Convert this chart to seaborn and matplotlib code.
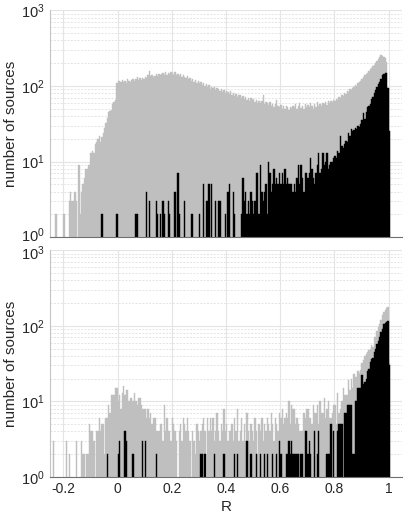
import matplotlib
matplotlib.use("Agg")
import matplotlib.pyplot as plt
import numpy as np
import pandas as pd
import seaborn as sns
from matplotlib.ticker import LogLocator, NullFormatter
from matplotlib.transforms import ScaledTranslation

# histogram of correlation coefficient R, bins of 0.005 from -0.25 to 1.005
r_min = -0.25
bin_width = 0.005

# upper panel: all sources (grey) and selected sources (black)
top_gray = [
    0, 0, 0, 0, 2, 0, 0, 0, 0, 0,
    2, 0, 0, 0, 3, 4, 3, 3, 4, 3,
    0, 9, 2, 4, 5, 6, 8, 8, 9, 9,
    13, 14, 13, 17, 18, 20, 22, 18, 21, 24,
    28, 32, 38, 45, 46, 48, 58, 62, 65, 110,
    115, 118, 112, 120, 114, 117, 110, 122, 116, 112,
    120, 125, 118, 124, 130, 121, 126, 119, 128, 124,
    132, 128, 138, 160, 134, 140, 131, 137, 142, 135,
    143, 138, 146, 150, 141, 152, 139, 147, 144, 155,
    148, 140, 152, 138, 145, 136, 142, 130, 139, 133,
    128, 135, 124, 126, 118, 122, 112, 120, 110, 115,
    108, 113, 104, 110, 100, 106, 98, 102, 90, 97,
    94, 98, 88, 95, 90, 85, 92, 83, 88, 80,
    86, 82, 78, 85, 76, 80, 74, 79, 72, 77,
    75, 70, 73, 68, 72, 66, 70, 64, 69, 65,
    67, 62, 66, 60, 64, 59, 63, 75, 58, 61,
    60, 56, 62, 55, 58, 53, 57, 66, 54, 52,
    56, 50, 54, 49, 55, 52, 48, 53, 51, 55,
    52, 57, 50, 54, 60, 51, 55, 49, 58, 53,
    56, 52, 59, 54, 50, 57, 53, 61, 55, 58,
    54, 60, 57, 62, 56, 64, 59, 63, 61, 66,
    64, 68, 66, 72, 70, 75, 73, 80, 78, 85,
    83, 90, 88, 95, 98, 102, 100, 108, 112, 118,
    125, 132, 138, 142, 150, 158, 168, 175, 182, 192,
    200, 212, 225, 240, 255, 248, 240, 232, 210, 95, 25,
]
top_black = [
    0, 0, 0, 0, 0, 0, 0, 0, 0, 0,
    0, 0, 0, 0, 0, 0, 0, 0, 0, 0,
    0, 0, 0, 0, 0, 0, 0, 0, 0, 0,
    0, 0, 0, 0, 0, 0, 0, 0, 2, 0,
    0, 0, 0, 0, 0, 0, 0, 0, 0, 2,
    0, 0, 0, 0, 0, 0, 0, 0, 0, 0,
    0, 0, 0, 2, 2, 0, 0, 0, 0, 0,
    0, 4, 0, 3, 0, 0, 0, 0, 3, 2,
    0, 2, 0, 3, 2, 0, 0, 3, 2, 0,
    0, 0, 4, 0, 7, 2, 0, 0, 0, 3,
    0, 0, 0, 0, 2, 2, 0, 0, 0, 0,
    2, 0, 0, 5, 0, 3, 3, 5, 0, 5,
    0, 0, 3, 0, 3, 3, 0, 0, 0, 2,
    0, 4, 5, 0, 0, 4, 2, 0, 0, 0,
    0, 2, 6, 3, 4, 2, 3, 2, 4, 3,
    2, 3, 7, 7, 2, 9, 4, 3, 4, 5,
    2, 10, 7, 4, 5, 8, 5, 6, 5, 7,
    5, 7, 5, 8, 5, 6, 5, 5, 5, 4,
    5, 4, 6, 9, 5, 9, 6, 4, 7, 7,
    6, 7, 11, 8, 6, 5, 7, 9, 13, 7,
    8, 13, 9, 10, 13, 8, 9, 10, 10, 11,
    12, 11, 14, 13, 22, 16, 15, 17, 19, 18,
    24, 22, 27, 25, 26, 28, 27, 30, 29, 31,
    35, 44, 37, 45, 53, 55, 58, 68, 72, 80,
    88, 96, 105, 113, 125, 138, 145, 150, 148, 95, 25,
]

# lower panel
bottom_gray = [
    0, 0, 3, 0, 0, 0, 0, 0, 0, 0,
    0, 0, 3, 0, 2, 0, 0, 0, 0, 3,
    0, 0, 0, 3, 2, 2, 0, 2, 2, 5,
    4, 4, 3, 0, 4, 4, 6, 4, 5, 5,
    2, 6, 6, 9, 7, 12, 12, 12, 15, 15,
    10, 12, 8, 13, 16, 12, 14, 14, 10, 11,
    11, 10, 13, 10, 9, 11, 11, 9, 8, 8,
    8, 6, 8, 6, 7, 5, 6, 6, 4, 4,
    4, 5, 5, 3, 9, 4, 6, 4, 4, 3,
    6, 5, 4, 3, 0, 4, 5, 3, 6, 5,
    4, 6, 4, 3, 0, 4, 3, 2, 5, 4,
    3, 4, 5, 6, 4, 0, 6, 4, 6, 4,
    6, 3, 4, 7, 4, 3, 5, 4, 8, 4,
    5, 3, 4, 4, 5, 3, 6, 4, 8, 3,
    4, 6, 3, 5, 3, 7, 4, 3, 5, 4,
    3, 6, 4, 2, 5, 4, 6, 3, 5, 4,
    6, 5, 4, 7, 5, 3, 6, 5, 4, 7,
    6, 8, 5, 6, 7, 6, 10, 5, 9, 8,
    8, 5, 6, 5, 4, 4, 4, 7, 6, 8,
    8, 6, 6, 5, 9, 7, 7, 9, 5, 10,
    7, 7, 11, 6, 8, 10, 6, 6, 7, 9,
    9, 5, 13, 7, 8, 10, 15, 12, 12, 12,
    19, 14, 20, 15, 23, 21, 21, 25, 24, 26,
    32, 35, 40, 42, 45, 48, 50, 55, 52, 70,
    72, 85, 95, 105, 120, 140, 150, 160, 170, 178, 32,
]
bottom_black = [
    0, 0, 0, 0, 0, 0, 0, 0, 0, 0,
    0, 0, 0, 0, 0, 0, 0, 0, 0, 0,
    0, 0, 0, 0, 0, 0, 0, 0, 0, 0,
    0, 0, 0, 0, 0, 0, 0, 0, 0, 0,
    0, 0, 2, 0, 0, 0, 0, 0, 0, 0,
    2, 3, 0, 0, 0, 4, 3, 0, 0, 0,
    0, 2, 0, 0, 0, 0, 0, 0, 3, 0,
    3, 0, 0, 0, 0, 0, 0, 0, 2, 0,
    0, 0, 0, 0, 0, 0, 0, 0, 0, 0,
    0, 0, 0, 0, 0, 0, 0, 0, 0, 0,
    0, 0, 0, 0, 0, 0, 0, 0, 0, 0,
    0, 2, 2, 0, 2, 0, 0, 0, 0, 0,
    0, 2, 0, 0, 0, 0, 0, 0, 2, 0,
    0, 0, 0, 0, 0, 0, 2, 0, 2, 0,
    0, 0, 0, 0, 0, 3, 0, 0, 2, 0,
    0, 0, 2, 0, 0, 2, 0, 0, 2, 0,
    2, 0, 0, 0, 2, 0, 0, 2, 0, 3,
    2, 0, 0, 0, 2, 2, 3, 2, 3, 2,
    2, 2, 2, 2, 0, 2, 2, 0, 4, 4,
    2, 3, 2, 0, 0, 4, 0, 2, 4, 0,
    0, 0, 0, 0, 2, 2, 2, 5, 0, 4,
    0, 0, 4, 5, 5, 5, 0, 7, 7, 9,
    9, 9, 9, 2, 2, 10, 10, 15, 15, 15,
    22, 17, 18, 20, 25, 27, 33, 36, 38, 45,
    50, 58, 62, 70, 82, 90, 105, 110, 112, 115, 30,
]

x_ticks = [-0.2, 0, 0.2, 0.4, 0.6, 0.8, 1]
x_ticklabels = ["-0.2", "0", "0.2", "0.4", "0.6", "0.8", "1"]

sns.set_style("white")
plt.rcParams['font.family'] = ['Liberation Sans', 'DejaVu Sans']
plt.rcParams['mathtext.fontset'] = 'custom'
plt.rcParams['mathtext.rm'] = 'Liberation Sans'
plt.rcParams['mathtext.it'] = 'Liberation Sans:italic'

n_bins = len(top_gray)
edges = r_min + bin_width * np.arange(n_bins + 1)
centers = edges[:-1] + bin_width / 2
bin_edges = [float(e) for e in edges]

GRAY = "#bfbfbf"
GRID = "#e4e4e4"


def draw_panel(ax, gray, black, show_x):
    df = pd.DataFrame({"R": centers, "gray": gray, "black": black})
    sns.histplot(data=df, x="R", weights="gray", bins=bin_edges, color=GRAY,
                 edgecolor=GRAY, linewidth=0.3, alpha=1, ax=ax)
    sns.histplot(data=df, x="R", weights="black", bins=bin_edges, color="black",
                 edgecolor="black", linewidth=0.3, alpha=1, ax=ax)
    ax.set_yscale("log")
    ax.set_ylim(1, 1000)
    ax.set_xlim(-0.25, 1.05)
    ax.yaxis.set_major_locator(LogLocator(base=10, numticks=6))
    ax.yaxis.set_minor_locator(LogLocator(base=10, subs=np.arange(2, 10), numticks=12))
    ax.yaxis.set_minor_formatter(NullFormatter())
    ax.set_xticks(x_ticks)
    ax.set_axisbelow(True)
    ax.grid(which="major", axis="both", color=GRID, linewidth=0.8)
    ax.grid(which="minor", axis="y", color=GRID, linewidth=0.7, linestyle=(0, (2, 1.5)))
    ax.tick_params(which="both", direction="in", color="#bbbbbb", labelsize=10,
                   labelcolor="#262626")
    ax.tick_params(axis="y", labelsize=10.5, pad=4)
    ax.tick_params(which="major", length=3)
    ax.tick_params(which="minor", length=2)
    for side in ["top", "right"]:
        ax.spines[side].set_visible(False)
    ax.spines["left"].set_color("#c4c4c4")
    ax.spines["bottom"].set_color("#707070")
    ax.set_ylabel("number of sources", fontsize=11, color="#262626", labelpad=2)
    if show_x:
        ax.set_xticklabels(x_ticklabels)
        ax.set_xlabel("R", fontsize=11, color="#262626", labelpad=3)
    else:
        ax.set_xticklabels([])
        ax.set_xlabel("")


fig = plt.figure(figsize=(4.15, 5.19), dpi=100, facecolor="white")
ax1 = fig.add_axes([0.120, 0.543, 0.849, 0.437])
ax2 = fig.add_axes([0.120, 0.081, 0.849, 0.437])

draw_panel(ax1, top_gray, top_black, False)
draw_panel(ax2, bottom_gray, bottom_black, True)

# the two panels' end labels (10^0 above, 10^3 below) sit very close; nudge them apart
fig.canvas.draw()
for ax, loc, dy in [(ax1, 1, 2.5), (ax2, 1000, -2.5)]:
    for tick in ax.yaxis.get_major_ticks():
        if np.isclose(tick.get_loc(), loc):
            lab = tick.label1
            lab.set_transform(lab.get_transform()
                              + ScaledTranslation(0, dy / 100, fig.dpi_scale_trans))

fig.savefig("out.png", dpi=100, facecolor="white")
plt.close()
